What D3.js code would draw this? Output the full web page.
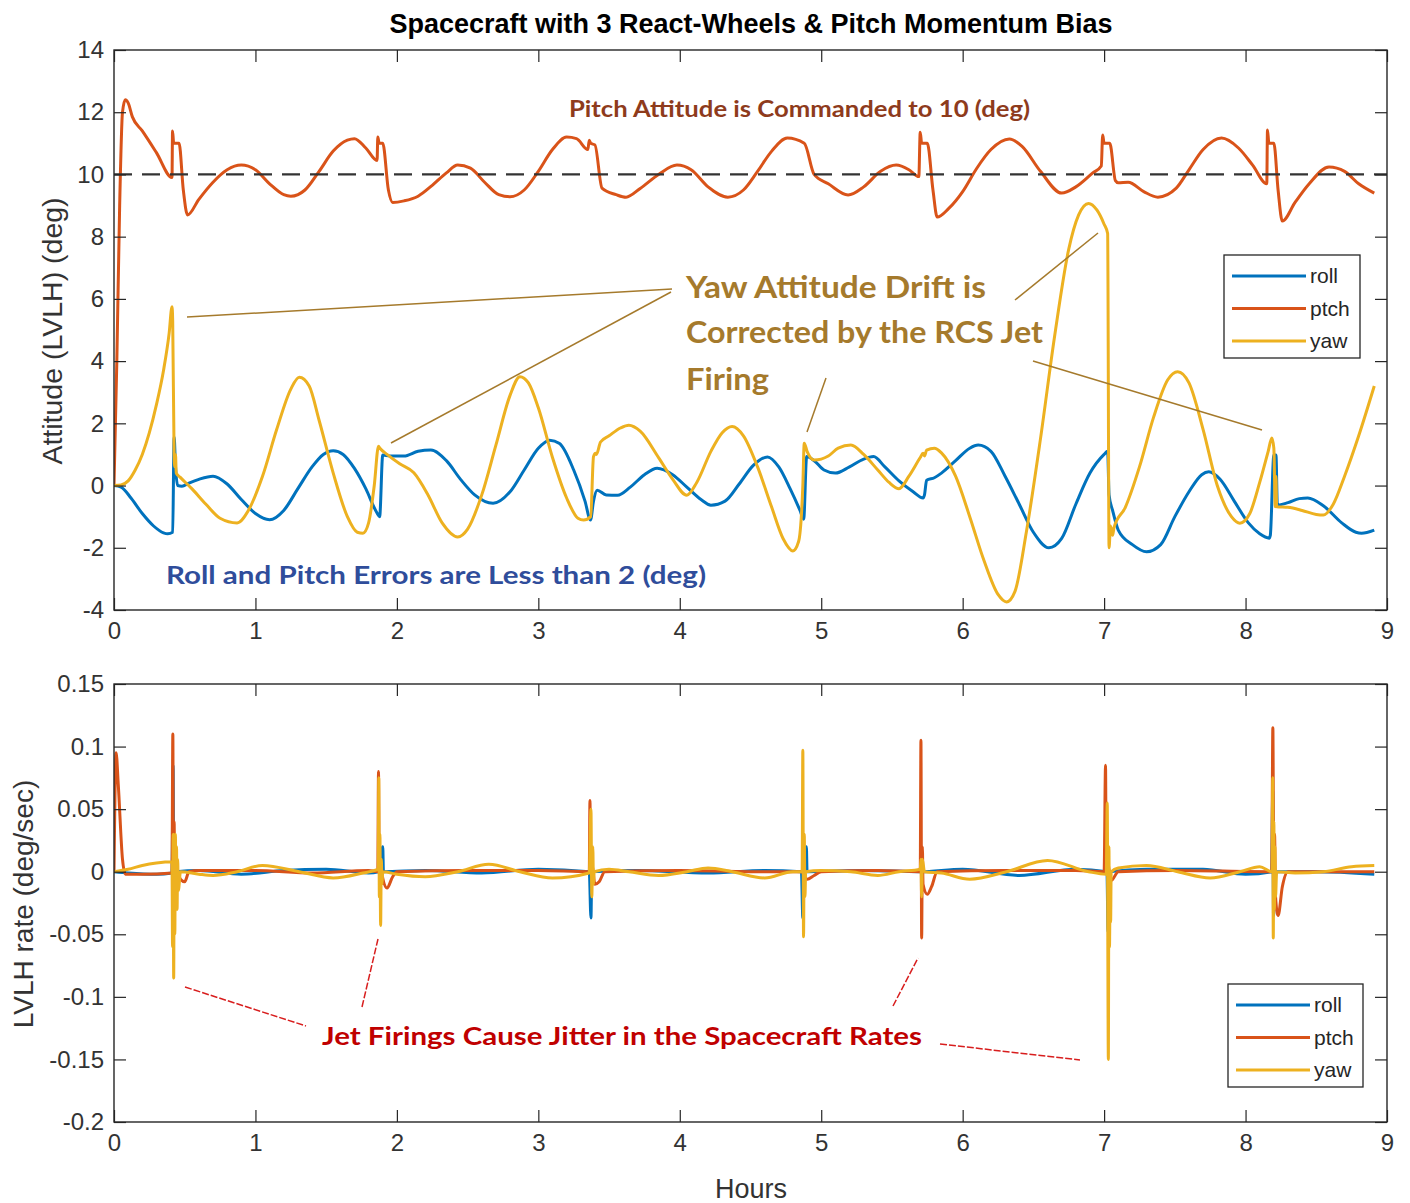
<!DOCTYPE html>
<html>
<head>
<meta charset="utf-8">
<script src="https://cdn.jsdelivr.net/npm/d3@7"></script>
<style>
  body { margin: 0; background: #fff; }
  text { font-family: "Liberation Sans", Arial, sans-serif; }
  .note { font-family: Lato, "Open Sans", sans-serif; font-weight: bold; }
</style>
</head>
<body>
<svg id="chart"></svg>
<script>
// data (hours, value)

const xTicks = [0, 1, 2, 3, 4, 5, 6, 7, 8, 9]
const attTicks = [-4, -2, 0, 2, 4, 6, 8, 10, 12, 14]
const rateTicks = [-0.2, -0.15, -0.1, -0.05, 0, 0.05, 0.1, 0.15]
const rateTickLabels = ['-0.2', '-0.15', '-0.1', '-0.05', '0', '0.05', '0.1', '0.15']
const seriesNames = ['roll', 'ptch', 'yaw']
const pitchCommand = 10

const rollAtt = [[0,0],[0.05,-0.05],[0.12,-0.4],[0.2,-0.9],[0.28,-1.3],[0.35,-1.52],[0.38,-1.55],[0.415,-1.5],
  [0.425,1.57],[0.435,0.6],[0.45,0.0],[0.48,-0.02],[0.53,0.08],[0.6,0.2],[0.7,0.3],[0.8,0.05],[0.9,-0.45],
  [1.0,-0.9],[1.1,-1.1],[1.2,-0.8],[1.3,-0.1],[1.4,0.6],[1.48,1.0],[1.55,1.12],[1.62,1.0],[1.7,0.55],
  [1.78,-0.1],[1.85,-0.8],[1.878,-1.0],[1.9,0.98],[1.95,0.95],[2.05,0.95],[2.15,1.1],[2.24,1.14],[2.35,0.8],
  [2.45,0.2],[2.55,-0.3],[2.68,-0.57],[2.8,-0.2],[2.9,0.5],[3.0,1.2],[3.08,1.46],[3.15,1.35],[3.25,0.5],
  [3.33,-0.5],[3.369,-1.11],[3.39,-0.5],[3.416,-0.15],[3.48,-0.3],[3.56,-0.31],[3.65,-0.05],[3.75,0.35],
  [3.84,0.56],[3.95,0.35],[4.05,-0.05],[4.15,-0.45],[4.22,-0.63],[4.32,-0.5],[4.42,0.05],[4.52,0.65],
  [4.62,0.92],[4.7,0.6],[4.78,-0.1],[4.85,-0.8],[4.876,-1.08],[4.897,0.93],[4.95,0.8],[5.02,0.5],[5.1,0.4],
  [5.2,0.6],[5.3,0.85],[5.37,0.93],[5.45,0.6],[5.55,0.15],[5.65,-0.2],[5.72,-0.4],[5.73,-0.3],[5.745,0.17],
  [5.8,0.25],[5.85,0.4],[5.95,0.8],[6.05,1.2],[6.11,1.3],[6.2,1.1],[6.3,0.3],[6.4,-0.6],[6.5,-1.5],
  [6.61,-2.0],[6.7,-1.7],[6.8,-0.6],[6.9,0.4],[7.0,1.0],[7.025,1.1],[7.035,-0.3],[7.06,-0.8],[7.1,-1.43],
  [7.2,-1.9],[7.3,-2.13],[7.4,-1.9],[7.5,-1.0],[7.6,-0.2],[7.69,0.35],[7.74,0.44],[7.82,0.2],[7.92,-0.5],
  [8.02,-1.2],[8.1,-1.55],[8.167,-1.69],[8.175,-1.6],[8.2,0.98],[8.215,0.98],[8.225,-0.63],[8.3,-0.55],
  [8.38,-0.42],[8.44,-0.4],[8.55,-0.65],[8.68,-1.2],[8.78,-1.5],[8.82,-1.53],[8.91,-1.43]]

const ptchAtt = [[0,0],[0.02,4],[0.04,9],[0.06,12.0],[0.08,12.4],[0.1,12.3],[0.13,11.85],[0.2,11.4],
  [0.3,10.7],[0.41,9.9],[0.414,11.4],[0.422,11.0],[0.46,11.0],[0.49,9.5],[0.52,8.7],[0.6,9.2],[0.7,9.75],
  [0.8,10.15],[0.9,10.3],[1.0,10.15],[1.1,9.7],[1.2,9.35],[1.25,9.3],[1.35,9.5],[1.45,10.1],[1.55,10.75],
  [1.65,11.1],[1.7,11.15],[1.78,10.85],[1.86,10.45],[1.865,11.2],[1.875,11.0],[1.9,11.0],[1.94,9.5],
  [1.97,9.1],[2.05,9.15],[2.15,9.3],[2.25,9.65],[2.35,10.05],[2.43,10.3],[2.52,10.2],[2.62,9.75],
  [2.72,9.35],[2.8,9.28],[2.9,9.5],[3.0,10.1],[3.1,10.8],[3.2,11.2],[3.27,11.15],[3.35,10.8],[3.36,11.1],
  [3.37,11.0],[3.4,10.95],[3.45,9.56],[3.55,9.35],[3.62,9.27],[3.72,9.55],[3.85,10.0],[3.98,10.3],
  [4.08,10.15],[4.2,9.6],[4.34,9.27],[4.45,9.5],[4.55,10.1],[4.65,10.75],[4.76,11.17],[4.88,11.0],
  [4.95,10.0],[5.05,9.7],[5.19,9.34],[5.3,9.6],[5.42,10.1],[5.53,10.3],[5.62,10.15],[5.69,9.93],
  [5.7,11.36],[5.71,11.0],[5.75,11.0],[5.79,9.5],[5.82,8.63],[5.9,8.9],[6.0,9.45],[6.1,10.2],[6.2,10.8],
  [6.33,11.14],[6.42,10.9],[6.55,10.1],[6.7,9.4],[6.8,9.6],[6.92,10.05],[6.98,10.27],[6.99,11.27],
  [7.0,11.0],[7.04,11.0],[7.08,9.8],[7.1,9.73],[7.17,9.75],[7.28,9.45],[7.38,9.27],[7.51,9.56],[7.6,10.15],
  [7.7,10.8],[7.83,11.17],[7.95,10.85],[8.05,10.3],[8.15,9.7],[8.155,11.43],[8.165,11.0],[8.2,11.0],
  [8.23,9.5],[8.26,8.5],[8.35,9.1],[8.45,9.7],[8.59,10.24],[8.7,10.1],[8.8,9.7],[8.91,9.4]]

const yawAtt = [[0,0],[0.05,0.02],[0.1,0.15],[0.15,0.5],[0.2,1.0],[0.25,1.7],[0.3,2.6],[0.35,3.7],
  [0.39,4.9],[0.41,5.75],[0.415,5.3],[0.425,1.0],[0.43,0.6],[0.435,1.0],[0.44,0.4],[0.467,0.27],
  [0.55,-0.1],[0.65,-0.6],[0.75,-1.05],[0.87,-1.2],[0.95,-0.8],[1.05,0.3],[1.15,1.8],[1.25,3.1],
  [1.31,3.48],[1.38,3.2],[1.45,2.1],[1.55,0.4],[1.65,-1.0],[1.72,-1.5],[1.76,-1.53],[1.8,-1.2],
  [1.84,0.0],[1.87,1.26],[1.88,1.2],[1.93,1.0],[2.02,0.7],[2.12,0.41],[2.22,-0.3],[2.32,-1.2],
  [2.43,-1.65],[2.5,-1.4],[2.6,-0.3],[2.7,1.3],[2.8,2.9],[2.87,3.5],[2.93,3.3],[3.0,2.5],[3.1,0.9],
  [3.2,-0.4],[3.28,-1.05],[3.32,-1.11],[3.37,-1.0],[3.39,0.93],[3.405,1.04],[3.41,1.0],[3.44,1.4],
  [3.5,1.6],[3.58,1.85],[3.64,1.94],[3.72,1.75],[3.85,0.9],[3.95,0.2],[4.05,-0.31],[4.12,0.1],
  [4.22,1.1],[4.3,1.7],[4.37,1.9],[4.45,1.6],[4.55,0.6],[4.65,-0.7],[4.73,-1.7],[4.8,-2.1],[4.84,-1.8],
  [4.87,0.0],[4.88,1.36],[4.9,1.1],[4.95,0.82],[5.05,0.95],[5.12,1.2],[5.21,1.3],[5.3,1.0],[5.4,0.5],
  [5.48,0.1],[5.55,-0.1],[5.62,0.3],[5.7,0.9],[5.72,1.04],[5.73,0.95],[5.745,1.14],[5.8,1.2],[5.85,1.05],
  [5.95,0.3],[6.05,-1.0],[6.15,-2.4],[6.25,-3.5],[6.31,-3.74],[6.37,-3.4],[6.45,-1.5],[6.55,1.5],
  [6.65,4.8],[6.75,7.6],[6.82,8.7],[6.89,9.07],[6.95,8.85],[7.0,8.4],[7.025,8.1],[7.035,-2.0],
  [7.045,-1.3],[7.06,-1.6],[7.07,-1.35],[7.15,-0.7],[7.25,0.6],[7.35,2.2],[7.45,3.4],[7.52,3.66],
  [7.6,3.3],[7.7,1.8],[7.8,0.0],[7.9,-1.0],[7.96,-1.21],[8.03,-0.9],[8.1,0.1],[8.16,1.1],[8.186,1.53],
  [8.2,1.2],[8.21,-0.68],[8.215,0.3],[8.22,-0.68],[8.3,-0.7],[8.4,-0.8],[8.5,-0.93],[8.55,-0.95],
  [8.62,-0.6],[8.7,0.3],[8.8,1.6],[8.91,3.2]]

const rollRate = [[0,0],[0.1,-0.001],[0.3,-0.002],[0.41,-0.001],[0.418,0.085],[0.422,0.0],[0.428,0.03],
  [0.434,-0.02],[0.44,0.0],[0.6,0.001],[0.9,-0.002],[1.2,0.001],[1.5,0.002],[1.8,-0.001],[1.87,0.0],
  [1.9,0.02],[1.905,0.0],[2.2,0.001],[2.6,-0.001],[3.0,0.002],[3.36,0.0],[3.372,-0.037],[3.378,0.0],
  [3.7,0.001],[4.2,-0.001],[4.6,0.001],[4.86,0.0],[4.87,-0.037],[4.875,0.0],[4.895,0.02],[4.9,0.0],
  [5.3,0.001],[5.7,0.0],[6.0,0.002],[6.4,-0.003],[6.8,0.002],[7.02,0.0],[7.028,-0.048],[7.034,0.0],
  [7.3,0.002],[7.7,0.002],[8.0,-0.002],[8.185,0.0],[8.192,0.065],[8.198,-0.035],[8.205,0.0],[8.5,0.0],
  [8.91,-0.002]]

const ptchRate = [[0,0],[0.015,0.095],[0.03,0.07],[0.06,0.01],[0.08,-0.002],[0.2,-0.002],[0.41,-0.001],
  [0.416,0.11],[0.42,0.0],[0.425,0.04],[0.43,-0.01],[0.44,0.0],[0.47,-0.006],[0.5,-0.008],[0.53,0.0],
  [0.6,0.001],[1.0,0.001],[1.4,-0.001],[1.8,0.001],[1.865,0.0],[1.87,0.08],[1.875,0.0],[1.88,0.01],
  [1.9,-0.005],[1.93,-0.013],[1.97,-0.004],[2.0,0.0],[2.5,0.001],[3.0,0.001],[3.36,0.0],[3.365,0.057],
  [3.37,0.0],[3.38,0.005],[3.4,-0.01],[3.43,-0.008],[3.47,0.0],[4.0,0.001],[4.5,0.0],[4.86,0.0],
  [4.9,-0.006],[4.95,-0.003],[5.0,0.0],[5.4,0.001],[5.7,0.0],[5.705,0.105],[5.71,-0.053],[5.715,0.02],
  [5.72,-0.01],[5.75,-0.018],[5.78,-0.012],[5.82,0.0],[6.3,0.001],[6.8,0.001],[7.0,0.0],[7.01,0.085],
  [7.015,0.0],[7.02,0.01],[7.05,-0.007],[7.1,0.0],[7.5,0.001],[8.185,0.0],[8.193,0.115],[8.2,-0.01],
  [8.205,0.03],[8.212,-0.02],[8.23,-0.035],[8.26,-0.012],[8.3,0.0],[8.91,0.0]]

const yawRate = [[0,0],[0.1,0.002],[0.2,0.005],[0.3,0.007],[0.41,0.008],[0.414,-0.06],[0.418,0.03],
  [0.422,-0.085],[0.426,0.025],[0.43,-0.05],[0.434,0.03],[0.438,-0.03],[0.442,0.02],[0.446,-0.03],
  [0.45,0.01],[0.455,-0.015],[0.47,0.0],[0.6,-0.002],[0.7,-0.003],[0.87,0.0],[1.05,0.005],[1.31,0.0],
  [1.55,-0.005],[1.76,-0.001],[1.868,0.002],[1.872,0.075],[1.876,-0.02],[1.88,0.03],[1.885,-0.043],
  [1.89,0.01],[1.895,-0.01],[1.9,0.0],[2.0,-0.002],[2.2,-0.004],[2.43,0.0],[2.65,0.006],[2.87,0.0],
  [3.1,-0.005],[3.36,-0.001],[3.372,0.05],[3.378,-0.02],[3.385,0.02],[3.39,-0.01],[3.395,0.0],
  [3.5,0.002],[3.64,0.0],[3.85,-0.003],[4.05,0.0],[4.2,0.003],[4.37,0.0],[4.6,-0.005],[4.8,0.0],
  [4.865,0.0],[4.87,0.097],[4.875,-0.052],[4.88,0.03],[4.885,-0.02],[4.89,0.0],[5.0,0.001],[5.21,0.0],
  [5.4,-0.003],[5.55,0.0],[5.7,0.002],[5.705,0.01],[5.71,-0.02],[5.715,0.01],[5.73,0.0],[5.85,-0.001],
  [6.05,-0.006],[6.31,0.0],[6.6,0.009],[6.89,0.0],[7.015,-0.002],[7.022,0.055],[7.03,-0.15],
  [7.034,0.02],[7.038,-0.06],[7.042,-0.02],[7.046,-0.04],[7.05,0.0],[7.1,0.003],[7.3,0.005],[7.52,0.0],
  [7.75,-0.005],[7.96,0.0],[8.1,0.004],[8.188,0.0],[8.192,0.075],[8.196,-0.053],[8.2,0.04],
  [8.204,-0.03],[8.208,0.02],[8.212,-0.02],[8.22,0.0],[8.35,-0.001],[8.55,0.0],[8.75,0.004],[8.91,0.005]]

// layout

const W = 1410, H = 1203
const COLORS = { roll: '#0072BD', ptch: '#D95319', yaw: '#EDB120' }
const AXIS = '#262626'

const x = d3.scaleLinear().domain([0, 9]).range([114, 1387])
const yAtt = d3.scaleLinear().domain([-4, 14]).range([610, 50])
const yRate = d3.scaleLinear().domain([-0.2, 0.15]).range([1122, 684])

const svg = d3.select('#chart').attr('width', W).attr('height', H)
svg.append('rect').attr('width', W).attr('height', H).attr('fill', '#fff')

function drawPanel(id, y, yTicks, yFmt, series, legendBox, extra) {
  const [x0, x1] = x.range()
  const [yb, yt] = y.range()
  const g = svg.append('g')

  svg.append('clipPath').attr('id', id)
    .append('rect').attr('x', x0).attr('y', yt).attr('width', x1 - x0).attr('height', yb - yt)

  const line = d3.line().x(d => x(d[0])).y(d => y(d[1])).curve(d3.curveMonotoneX)
  const plot = g.append('g').attr('clip-path', `url(#${id})`)
  series.forEach(s => {
    plot.append('path').attr('d', line(s.data))
      .attr('fill', 'none').attr('stroke', COLORS[s.name])
      .attr('stroke-width', 3).attr('stroke-linejoin', 'round')
  })
  if (extra) extra(plot, y)

  // ticks in, all four sides, MATLAB box style
  const styleAxis = (a) => {
    a.select('.domain').remove()
    a.selectAll('.tick line').attr('stroke', AXIS).attr('stroke-width', 1.2)
    a.selectAll('.tick text').attr('fill', '#333').attr('font-size', 24)
      .attr('font-family', '"Liberation Sans", Arial, sans-serif')
  }
  g.append('g').attr('transform', `translate(0,${yb})`)
    .call(d3.axisBottom(x).tickValues(xTicks).tickSize(-12).tickPadding(12).tickFormat(d => String(d)))
    .call(styleAxis)
  g.append('g').attr('transform', `translate(0,${yt})`)
    .call(d3.axisTop(x).tickValues(xTicks).tickSize(-12).tickFormat(''))
    .call(styleAxis)
  g.append('g').attr('transform', `translate(${x0},0)`)
    .call(d3.axisLeft(y).tickValues(yTicks).tickSize(-12).tickPadding(10).tickFormat(yFmt))
    .call(styleAxis)
  g.append('g').attr('transform', `translate(${x1},0)`)
    .call(d3.axisRight(y).tickValues(yTicks).tickSize(-12).tickFormat(''))
    .call(styleAxis)

  g.append('rect').attr('x', x0).attr('y', yt).attr('width', x1 - x0).attr('height', yb - yt)
    .attr('fill', 'none').attr('stroke', AXIS).attr('stroke-width', 1.4)

  // legend
  const lg = g.append('g')
  lg.append('rect').attr('x', legendBox.x).attr('y', legendBox.y)
    .attr('width', legendBox.w).attr('height', legendBox.h)
    .attr('fill', '#fff').attr('stroke', AXIS).attr('stroke-width', 1.3)
  seriesNames.forEach((name, i) => {
    const ly = legendBox.y + 21 + i * 32.5
    lg.append('line').attr('x1', legendBox.x + 8).attr('x2', legendBox.x + 82)
      .attr('y1', ly).attr('y2', ly)
      .attr('stroke', COLORS[name]).attr('stroke-width', 3)
    lg.append('text').attr('x', legendBox.x + 86).attr('y', ly + 7)
      .attr('font-size', 21).attr('fill', AXIS).text(name)
  })
}

drawPanel('clipTop', yAtt, attTicks, d => String(d),
  [{ name: 'roll', data: rollAtt }, { name: 'ptch', data: ptchAtt }, { name: 'yaw', data: yawAtt }],
  { x: 1224, y: 255, w: 136, h: 103 },
  (plot, y) => {
    // commanded pitch
    plot.append('line')
      .attr('x1', x(0)).attr('x2', x(9))
      .attr('y1', y(pitchCommand)).attr('y2', y(pitchCommand))
      .attr('stroke', '#333').attr('stroke-width', 2.2).attr('stroke-dasharray', '18,10')
  })

drawPanel('clipBot', yRate, rateTicks, (d, i) => rateTickLabels[i],
  [{ name: 'roll', data: rollRate }, { name: 'ptch', data: ptchRate }, { name: 'yaw', data: yawRate }],
  { x: 1228, y: 984, w: 135, h: 103 })

// titles and axis labels
svg.append('text').attr('x', 751).attr('y', 33).attr('text-anchor', 'middle')
  .attr('font-size', 27).attr('font-weight', 'bold').attr('fill', '#000')
  .text('Spacecraft with 3 React-Wheels & Pitch Momentum Bias')
svg.append('text').attr('transform', 'translate(62,331) rotate(-90)').attr('text-anchor', 'middle')
  .attr('font-size', 28.5).attr('fill', '#333').text('Attitude (LVLH) (deg)')
svg.append('text').attr('transform', 'translate(33,904) rotate(-90)').attr('text-anchor', 'middle')
  .attr('font-size', 28).attr('fill', '#333').text('LVLH rate (deg/sec)')
svg.append('text').attr('x', 751).attr('y', 1198).attr('text-anchor', 'middle')
  .attr('font-size', 27).attr('fill', '#333').text('Hours')

// annotations
function note(txt, x0, yb, len, size, color) {
  svg.append('text').attr('class', 'note').attr('x', x0).attr('y', yb)
    .attr('font-size', size).attr('fill', color)
    .attr('textLength', len).attr('lengthAdjust', 'spacingAndGlyphs').text(txt)
}
function leader(p, q, color, dash) {
  svg.append('line').attr('x1', p[0]).attr('y1', p[1]).attr('x2', q[0]).attr('y2', q[1])
    .attr('stroke', color).attr('stroke-width', 1.5).attr('stroke-dasharray', dash || null)
}

const GOLD = '#A57A2C', RED = '#D81E1E'
leader([187, 317], [672, 289], GOLD)
leader([391, 443], [671, 292], GOLD)
leader([1015, 300], [1098, 233], GOLD)
leader([826, 378], [807, 432], GOLD)
leader([1033, 361], [1262, 430], GOLD)

leader([185, 987], [306, 1026], RED, '7,2')
leader([362, 1007], [378, 939], RED, '7,2')
leader([893, 1006], [918, 958], RED, '7,2')
leader([940, 1044], [1080, 1060], RED, '7,2')

note('Pitch Attitude is Commanded to 10 (deg)', 569, 117, 461, 23, '#8E3B1C')
note('Yaw Attitude Drift is', 686, 298, 300, 31, GOLD)
note('Corrected by the RCS Jet', 686, 343, 357, 31, GOLD)
note('Firing', 686, 390, 83, 31, GOLD)
note('Roll and Pitch Errors are Less than 2 (deg)', 166, 584, 540, 25, '#2F4D9B')
note('Jet Firings Cause Jitter in the Spacecraft Rates', 322, 1045, 600, 25, '#C00000')
</script>
</body>
</html>
